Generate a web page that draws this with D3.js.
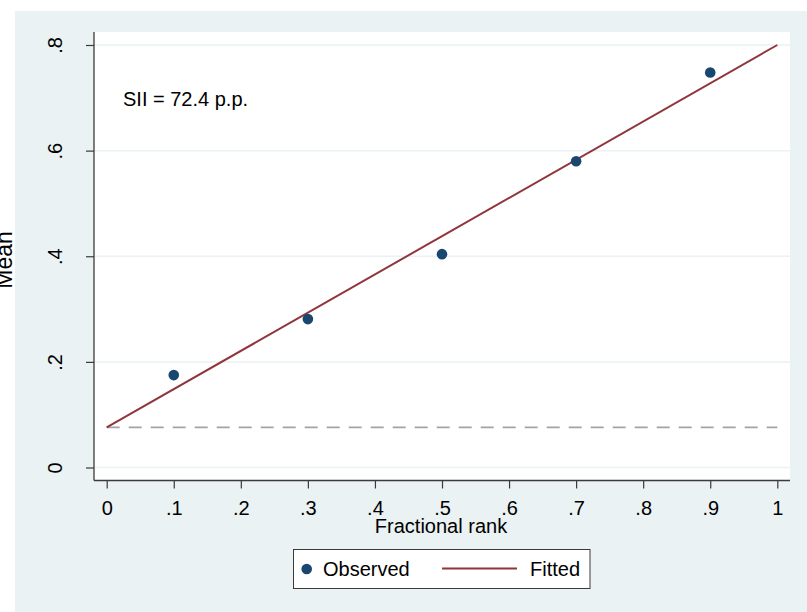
<!DOCTYPE html>
<html>
<head>
<meta charset="utf-8">
<script src="https://cdn.jsdelivr.net/npm/d3@7"></script>
<style>
  html, body { margin: 0; padding: 0; background: #ffffff; }
  svg { display: block; }
  text { font-family: "Liberation Sans", Arial, Helvetica, sans-serif; fill: #000; }
</style>
</head>
<body>
<svg id="chart" width="807" height="612"></svg>
<script>
// ---- data ----
const ranks = [0.1, 0.3, 0.5, 0.7, 0.9];
const means = [0.175, 0.281, 0.404, 0.580, 0.748];
const fitRank = [0, 1];
const fitMean = [0.076, 0.800];
const refLevel = 0.076;
const xTicks = [0, 0.1, 0.2, 0.3, 0.4, 0.5, 0.6, 0.7, 0.8, 0.9, 1];
const yTicks = [0, 0.2, 0.4, 0.6, 0.8];
const siiLabel = "SII = 72.4 p.p.";
const xTitle = "Fractional rank";
const yTitle = "Mean";
const legendLabels = ["Observed", "Fitted"];

// ---- layout ----
const svg = d3.select("#chart");
const W = 807, H = 612;
const plotL = 94, plotR = 790, plotT = 32, plotB = 480.5;
const x = d3.scaleLinear().domain([0, 1]).range([106.7, 777.3]);
const y = d3.scaleLinear().domain([0, 0.8]).range([467.5, 45]);
const fmt = d => d === 0 ? "0" : (d === 1 ? "1" : String(+d.toFixed(2)).replace(/^0/, ""));

const bg = "#eaf2f3";
const navy = "#1a476f";
const maroon = "#90353b";
const grey = "#9ea5a5";
const axisCol = "#3a3a3a";

// backgrounds
svg.append("rect").attr("x", 0).attr("y", 0).attr("width", W).attr("height", H).attr("fill", "#ffffff");
svg.append("rect").attr("x", 15).attr("y", 11).attr("width", W - 15).attr("height", H - 11).attr("fill", bg);
svg.append("rect").attr("x", plotL).attr("y", plotT).attr("width", plotR - plotL).attr("height", plotB - plotT).attr("fill", "#ffffff");

// gridlines
svg.append("g").selectAll("line").data(yTicks).join("line")
  .attr("x1", plotL).attr("x2", plotR)
  .attr("y1", d => y(d)).attr("y2", d => y(d))
  .attr("stroke", bg).attr("stroke-width", 1.5);

// y axis
const yAxis = svg.append("g").attr("transform", `translate(${plotL},0)`)
  .call(d3.axisLeft(y).tickValues(yTicks).tickFormat(fmt).tickSize(8).tickSizeOuter(0));
yAxis.select(".domain").remove();
yAxis.selectAll(".tick line").attr("stroke", axisCol).attr("stroke-width", 1.2);
yAxis.selectAll(".tick text")
  .attr("x", 0).attr("y", 0).attr("dy", 0)
  .attr("text-anchor", "middle")
  .attr("transform", "translate(-32,0) rotate(-90)")
  .style("font-size", "20px").style("font-family", "'Liberation Sans', Arial, sans-serif").attr("fill", "#000");

// x axis
const xAxis = svg.append("g").attr("transform", `translate(0,${plotB})`)
  .call(d3.axisBottom(x).tickValues(xTicks).tickFormat(fmt).tickSize(8).tickSizeOuter(0));
xAxis.select(".domain").remove();
xAxis.selectAll(".tick line").attr("stroke", axisCol).attr("stroke-width", 1.2);
xAxis.selectAll(".tick text")
  .attr("y", 34.5).attr("dy", 0)
  .attr("text-anchor", "middle")
  .style("font-size", "20px").style("font-family", "'Liberation Sans', Arial, sans-serif").attr("fill", "#000");

// axis lines
svg.append("line").attr("x1", plotL).attr("x2", plotL).attr("y1", plotT).attr("y2", plotB)
  .attr("stroke", axisCol).attr("stroke-width", 1.3);
svg.append("line").attr("x1", plotL).attr("x2", plotR).attr("y1", plotB).attr("y2", plotB)
  .attr("stroke", axisCol).attr("stroke-width", 1.3);

// reference dashed line
svg.append("line")
  .attr("x1", x(0)).attr("x2", x(1))
  .attr("y1", y(refLevel)).attr("y2", y(refLevel))
  .attr("stroke", grey).attr("stroke-width", 1.8)
  .attr("stroke-dasharray", "13,9");

// fitted line
const lineGen = d3.line().x(d => x(d[0])).y(d => y(d[1]));
svg.append("path")
  .datum(fitRank.map((r, i) => [r, fitMean[i]]))
  .attr("d", lineGen)
  .attr("fill", "none").attr("stroke", maroon).attr("stroke-width", 2);

// observed points
svg.append("g").selectAll("circle").data(ranks.map((r, i) => [r, means[i]])).join("circle")
  .attr("cx", d => x(d[0])).attr("cy", d => y(d[1])).attr("r", 5.3)
  .attr("fill", navy);

// SII annotation
svg.append("text").attr("x", 123).attr("y", 106).style("font-size", "20px").text(siiLabel);

// axis titles
svg.append("text").attr("x", (plotL + plotR) / 2 - 1).attr("y", 533)
  .attr("text-anchor", "middle").style("font-size", "20px").text(xTitle);
svg.append("text").attr("transform", `translate(12,260) rotate(-90)`)
  .attr("text-anchor", "middle").style("font-size", "23px").text(yTitle);

// legend
const lg = svg.append("g");
lg.append("rect").attr("x", 293.5).attr("y", 549.5).attr("width", 296.5).attr("height", 39)
  .attr("fill", "#ffffff").attr("stroke", axisCol).attr("stroke-width", 1);
lg.append("circle").attr("cx", 306.7).attr("cy", 569).attr("r", 5.3).attr("fill", navy);
lg.append("text").attr("x", 323).attr("y", 576).style("font-size", "20px").text(legendLabels[0]);
lg.append("line").attr("x1", 442).attr("x2", 517).attr("y1", 568.5).attr("y2", 568.5)
  .attr("stroke", maroon).attr("stroke-width", 2);
lg.append("text").attr("x", 530).attr("y", 576).style("font-size", "20px").text(legendLabels[1]);
</script>
</body>
</html>
